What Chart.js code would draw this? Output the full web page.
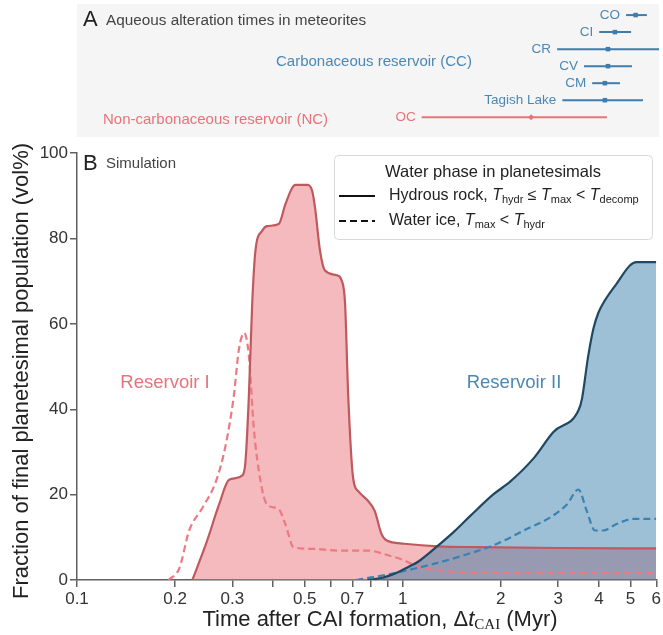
<!DOCTYPE html>
<html>
<head>
<meta charset="utf-8">
<script src="https://cdn.jsdelivr.net/npm/chart.js@4.4.1/dist/chart.umd.min.js"></script>
<style>
  body { margin: 0; background: #fff; }
  #wrap { position: relative; width: 663px; height: 635px; }
  #topChart { position: absolute; left: 0; top: 0; }
  #mainChart { position: absolute; left: 0; top: 141px; }
</style>
</head>
<body>
<div id="wrap">
  <canvas id="topChart" width="663" height="141"></canvas>
  <canvas id="mainChart" width="663" height="494"></canvas>
</div>
<script>
const FONT = '"Liberation Sans", Arial, sans-serif';

// Panel A: aqueous alteration ages (Myr after CAI)
const meteorites = ['CO', 'CI', 'CR', 'CV', 'CM', 'Tagish Lake', 'OC'];
const reservoir  = ['CC', 'CC', 'CC', 'CC', 'CC', 'CC', 'NC'];
const alterMid   = [5.09, 4.40, 4.19, 4.19, 4.10, 4.10, 2.44];
const alterLo    = [4.76, 3.94, 2.93, 3.54, 3.75, 3.04, 1.13];
const alterHi    = [5.51, 4.93, 6.20, 4.96, 4.56, 5.36, 4.16];

// Panel B: simulated fractions (vol%)
const res1RockT = [0.226, 0.249, 0.273, 0.293, 0.322, 0.329, 0.337, 0.345, 0.353, 0.370, 0.383, 0.416, 0.436, 0.457, 0.468, 0.508, 0.526, 0.538, 0.557, 0.577, 0.627, 0.649, 0.665, 0.680, 0.704, 0.730, 0.783, 0.820, 0.860, 0.890, 1.01, 1.28, 1.69, 3.0, 6.0];
const res1RockV = [0, 8.5, 17.7, 23.5, 24.5, 27.8, 43.2, 64.8, 77.2, 81.8, 82.9, 83.4, 88.0, 91.8, 92.6, 92.6, 91.4, 87.2, 77.2, 72.5, 71.4, 70.2, 64.8, 43.2, 23.9, 20.8, 18.5, 16.2, 10.8, 9.3, 8.5, 7.9, 7.7, 7.5, 7.4];

const res1IceT = [0.191, 0.206, 0.221, 0.243, 0.267, 0.286, 0.303, 0.314, 0.326, 0.337, 0.349, 0.366, 0.383, 0.416, 0.436, 0.462, 0.526, 0.634, 0.783, 0.90, 1.01, 1.11, 1.28, 1.61, 3.0, 6.0];
const res1IceV = [0, 2.7, 11.6, 17.0, 23.1, 31.6, 43.2, 54.0, 57.9, 52.5, 35.5, 23.1, 17.7, 16.6, 13.1, 7.7, 7.3, 6.9, 6.9, 5.8, 4.6, 3.1, 2.3, 1.7, 1.6, 1.6];

const res2RockT = [0.78, 0.85, 0.90, 0.97, 1.05, 1.12, 1.28, 1.44, 1.62, 1.90, 2.14, 2.52, 2.90, 3.46, 3.55, 3.70, 3.85, 3.98, 4.12, 4.53, 4.98, 5.21, 6.0];
const res2RockV = [0, 0.4, 0.9, 1.9, 3.2, 4.4, 8.0, 11.4, 15.2, 20.1, 23.1, 28.5, 34.7, 39.7, 42.5, 52.0, 59.0, 62.5, 64.8, 69.4, 73.7, 74.5, 74.5];

const res2IceT = [0.72, 0.80, 0.90, 0.97, 1.12, 1.22, 1.54, 1.95, 2.41, 2.84, 3.19, 3.46, 3.67, 3.89, 4.12, 4.53, 5.09, 6.0];
const res2IceV = [0, 0.6, 1.3, 1.8, 2.9, 3.6, 5.8, 8.5, 12.0, 14.7, 17.7, 21.2, 16.2, 11.6, 11.6, 13.1, 14.3, 14.3];

const xTicks = [0.1, 0.2, 0.3, 0.4, 0.5, 0.6, 0.7, 0.8, 0.9, 1, 2, 3, 4, 5, 6];
const xTickLabels = ['0.1', '0.2', '0.3', '', '0.5', '', '0.7', '', '', '1', '2', '3', '4', '5', '6'];

const CC_BLUE = '#3d7eae', CC_TEXT = '#4a88b5';
const NC_RED = '#e8737a';

const pts = (xs, ys) => xs.map((x, i) => ({ x: x, y: ys[i] }));

// draw a run of text pieces (font changes, subscripts) on one line
function drawRuns(ctx, runs, x, y, align) {
    let w = 0;
    runs.forEach(r => { ctx.font = r[1]; w += ctx.measureText(r[0]).width; });
    let cx = align === 'center' ? x - w / 2 : x;
    ctx.textAlign = 'left';
    runs.forEach(r => {
        ctx.font = r[1];
        ctx.fillText(r[0], cx, y + (r[2] || 0));
        cx += ctx.measureText(r[0]).width;
    });
}

// ---------- Panel A ----------
const nRows = meteorites.length;
const topDatasets = [];
meteorites.forEach((m, i) => {
    const row = nRows - 1 - i;
    const col = reservoir[i] === 'CC' ? CC_BLUE : NC_RED;
    topDatasets.push({
        data: [{ x: alterLo[i], y: row }, { x: alterHi[i], y: row }],
        showLine: true, borderColor: col, borderWidth: 2, pointRadius: 0
    });
    topDatasets.push({
        data: [{ x: alterMid[i], y: row }],
        pointStyle: reservoir[i] === 'CC' ? 'rect' : 'rectRot',
        pointRadius: reservoir[i] === 'CC' ? 3.2 : 3,
        backgroundColor: col, borderColor: col, borderWidth: 0
    });
});

const topDecor = {
    id: 'topDecor',
    beforeDraw(chart) {
        const { ctx, chartArea: a } = chart;
        ctx.save();
        ctx.fillStyle = '#f5f5f5';
        ctx.fillRect(a.left, a.top, a.right - a.left, a.bottom - a.top);
        ctx.restore();
    },
    afterDraw(chart) {
        const { ctx, scales } = chart;
        ctx.save();
        ctx.textBaseline = 'middle';
        ctx.fillStyle = '#222';
        ctx.font = '22px ' + FONT;
        ctx.textAlign = 'left';
        ctx.fillText('A', 83, 20);
        ctx.fillStyle = '#444';
        ctx.font = '15.3px ' + FONT;
        ctx.fillText('Aqueous alteration times in meteorites', 106, 21);

        ctx.font = '15px ' + FONT;
        ctx.fillStyle = CC_TEXT;
        ctx.fillText('Carbonaceous reservoir (CC)', 276, 62);
        ctx.fillStyle = NC_RED;
        ctx.fillText('Non-carbonaceous reservoir (NC)', 103, 120);

        ctx.textAlign = 'right';
        ctx.font = '13.5px ' + FONT;
        meteorites.forEach((m, i) => {
            const row = nRows - 1 - i;
            ctx.fillStyle = reservoir[i] === 'CC' ? CC_TEXT : NC_RED;
            ctx.fillText(m, scales.x.getPixelForValue(alterLo[i]) - 6, scales.y.getPixelForValue(row));
        });
        ctx.restore();
    }
};

new Chart(document.getElementById('topChart'), {
    type: 'scatter',
    data: { datasets: topDatasets },
    options: {
        responsive: false,
        animation: false,
        layout: { padding: { left: 77, right: 3, top: 0, bottom: 0 } },
        plugins: { legend: { display: false }, tooltip: { enabled: false } },
        scales: {
            x: { type: 'logarithmic', min: 0.1, max: 6, display: false },
            y: { type: 'linear', min: -1.16, max: 6.65, display: false }
        }
    },
    plugins: [topDecor]
});

// ---------- Panel B ----------
const mainDecor = {
    id: 'mainDecor',
    afterDraw(chart) {
        const { ctx } = chart;
        ctx.save();
        ctx.textBaseline = 'middle';

        // panel label
        ctx.fillStyle = '#222';
        ctx.font = '22px ' + FONT;
        ctx.textAlign = 'left';
        ctx.fillText('B', 83, 23);
        ctx.fillStyle = '#444';
        ctx.font = '15px ' + FONT;
        ctx.fillText('Simulation', 106, 23);

        // reservoir names
        ctx.font = '18.5px ' + FONT;
        ctx.textAlign = 'center';
        ctx.fillStyle = NC_RED;
        ctx.fillText('Reservoir I', 165, 242);
        ctx.fillStyle = CC_TEXT;
        ctx.fillText('Reservoir II', 514, 242);

        // legend box
        const bx = 334, by = 14, bw = 318, bh = 84;
        ctx.beginPath();
        ctx.roundRect(bx + 0.5, by + 0.5, bw, bh, 4);
        ctx.fillStyle = 'rgba(255,255,255,0.9)';
        ctx.fill();
        ctx.strokeStyle = '#d8d8d8';
        ctx.lineWidth = 1;
        ctx.stroke();

        ctx.fillStyle = '#222';
        ctx.font = '16.5px ' + FONT;
        ctx.textAlign = 'center';
        ctx.fillText('Water phase in planetesimals', 493, 31);

        ctx.strokeStyle = '#111';
        ctx.lineWidth = 2.2;
        ctx.beginPath(); ctx.moveTo(339, 55); ctx.lineTo(375, 55); ctx.stroke();
        ctx.setLineDash([7, 4]);
        ctx.beginPath(); ctx.moveTo(339, 80); ctx.lineTo(375, 80); ctx.stroke();
        ctx.setLineDash([]);

        const f = '16px ' + FONT, fi = 'italic 16px ' + FONT, fs = '11px ' + FONT;
        drawRuns(ctx, [['Hydrous rock, ', f], ['T', fi], ['hydr', fs, 4], [' \u2264 ', f], ['T', fi], ['max', fs, 4], [' < ', f], ['T', fi], ['decomp', fs, 4]], 389, 55, 'left');
        drawRuns(ctx, [['Water ice, ', f], ['T', fi], ['max', fs, 4], [' < ', f], ['T', fi], ['hydr', fs, 4]], 389, 80, 'left');

        // axis titles
        ctx.fillStyle = '#222';
        drawRuns(ctx, [['Time after CAI formation, \u0394', '22px ' + FONT], ['t', 'italic 22px ' + FONT], ['CAI', '15px "Liberation Serif", serif', 5], [' (Myr)', '22px ' + FONT]], 380, 479, 'center');

        ctx.translate(22, 230);
        ctx.rotate(-Math.PI / 2);
        ctx.font = '22px ' + FONT;
        ctx.textAlign = 'center';
        ctx.fillText('Fraction of final planetesimal population (vol%)', 0, 0);
        ctx.restore();
    }
};

const axisCol = '#606060';

new Chart(document.getElementById('mainChart'), {
    type: 'line',
    data: {
        datasets: [
            { data: pts(res2RockT, res2RockV), borderColor: '#1f4863', borderWidth: 2.2,
              backgroundColor: 'rgba(40,115,165,0.45)', fill: 'origin' },
            { data: pts(res2IceT, res2IceV), borderColor: '#3a82b0', borderWidth: 2.2,
              borderDash: [7, 4], fill: false },
            { data: pts(res1RockT, res1RockV), borderColor: '#c0595e', borderWidth: 2.2,
              backgroundColor: 'rgba(231,111,120,0.48)', fill: 'origin' },
            { data: pts(res1IceT, res1IceV), borderColor: '#ec7a80', borderWidth: 2.2,
              borderDash: [7, 4], fill: false }
        ]
    },
    options: {
        responsive: false,
        animation: false,
        elements: { point: { radius: 0 }, line: { cubicInterpolationMode: 'monotone' } },
        layout: { padding: { left: 0, right: 3, top: 7, bottom: 0 } },
        plugins: {
            legend: { display: false },
            tooltip: { enabled: false },
            filler: { drawTime: 'beforeDatasetsDraw' }
        },
        scales: {
            x: {
                type: 'logarithmic', min: 0.1, max: 6,
                afterBuildTicks: s => { s.ticks = xTicks.map(v => ({ value: v })); },
                afterFit: s => { s.height = 55; },
                ticks: {
                    autoSkip: false, maxRotation: 0, minRotation: 0, padding: 2,
                    color: '#333', font: { family: FONT, size: 17 },
                    callback: (v, i) => xTickLabels[i]
                },
                grid: { drawOnChartArea: false, drawTicks: true, tickLength: 7, color: axisCol, lineWidth: 1.5 },
                border: { display: true, color: axisCol, width: 1.5 }
            },
            y: {
                min: 0, max: 100,
                afterFit: s => { s.width = 77; },
                ticks: { stepSize: 20, padding: 2, color: '#333', font: { family: FONT, size: 17 } },
                grid: { drawOnChartArea: false, drawTicks: true, tickLength: 7, color: axisCol, lineWidth: 1.5 },
                border: { display: true, color: axisCol, width: 1.5 }
            }
        }
    },
    plugins: [mainDecor]
});
</script>
</body>
</html>
